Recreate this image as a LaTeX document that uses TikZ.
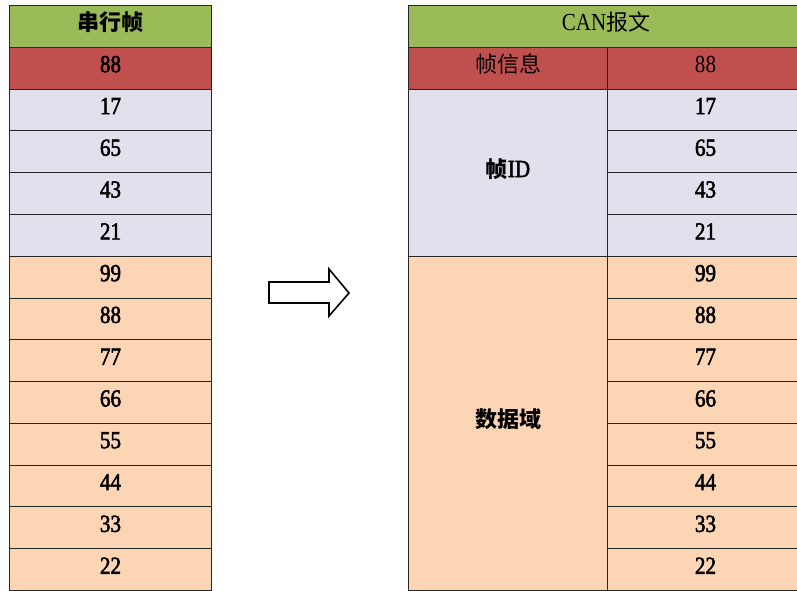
\documentclass[tikz,border=0pt]{standalone}
\usepackage{fontspec}
\setmainfont{Liberation Serif}
\newfontfamily\numfont[FakeStretch=0.86]{Liberation Serif}
\newfontfamily\numboldfont[FakeStretch=0.86,FakeBold=2.2]{Liberation Serif}
\newfontfamily\cjk{Noto Sans CJK SC}
\definecolor{hdrgreen}{HTML}{9BBB59}
\definecolor{rowred}{HTML}{C0504D}
\definecolor{rowlav}{HTML}{E4DFEC}
\definecolor{rowpeach}{HTML}{FCD5B4}
\definecolor{gridline}{HTML}{262626}
\newcommand{\up}[1]{\raisebox{4pt}[\height][\depth]{#1}}
\tikzset{
  cell/.style={draw=gridline, line width=1pt, inner sep=0pt, anchor=north west, align=center,
    font=\fontsize{24.5}{24.5}\numboldfont},
  lightcell/.style={cell, font=\fontsize{24.5}{24.5}\numfont},
  arrowshape/.style={draw=black, line width=1.6pt, fill=white, line join=miter}
}
\begin{document}
\begin{tikzpicture}[x=1pt,y=-1pt]
\useasboundingbox[fill=white] (0,0) rectangle (797,590);
\def\rh{41.79}
% left table
\node[cell, fill=hdrgreen, minimum width=202pt, minimum height=\rh pt] (lh) at (9,5) {\up{\fontsize{22}{22}\cjk\bfseries 串行帧}};
\node[cell, fill=rowred, minimum width=202pt, minimum height=\rh pt] (l1) at (9,5+\rh) {\up{88}};
\foreach \v [count=\i from 2] in {17,65,43,21} {
  \node[cell, fill=rowlav, minimum width=202pt, minimum height=\rh pt] (l\i) at (9,{5+\i*\rh}) {\up{\v}};
}
\foreach \v [count=\i from 6] in {99,88,77,66,55,44,33,22} {
  \node[cell, fill=rowpeach, minimum width=202pt, minimum height=\rh pt] (l\i) at (9,{5+\i*\rh}) {\up{\v}};
}
% arrow
\draw[arrowshape] (269,282) -- (329,282) -- (329,269) -- (349,293) -- (329,316) -- (329,303) -- (269,303) -- cycle;
% right table
\node[lightcell, fill=hdrgreen, minimum width=395pt, minimum height=\rh pt] (rh) at (408,5) {\up{CAN{\fontsize{22}{22}\cjk 报文}}};
\node[lightcell, fill=rowred, minimum width=199pt, minimum height=\rh pt] (rinfo) at (408,5+\rh) {\up{\fontsize{22}{22}\cjk 帧信息}};
\node[cell, fill=rowlav, minimum width=199pt, minimum height={4*\rh pt}] (rid) at (408,{5+2*\rh}) {\up{{\fontsize{22}{22}\cjk\bfseries 帧}ID}};
\node[cell, fill=rowpeach, minimum width=199pt, minimum height={8*\rh pt}] (rdata) at (408,{5+6*\rh}) {\up{\fontsize{22}{22}\cjk\bfseries 数据域}};
\node[lightcell, fill=rowred, minimum width=196pt, minimum height=\rh pt] (r1) at (607,5+\rh) {\up{88}};
\foreach \v [count=\i from 2] in {17,65,43,21} {
  \node[cell, fill=rowlav, minimum width=196pt, minimum height=\rh pt] (r\i) at (607,{5+\i*\rh}) {\up{\v}};
}
\foreach \v [count=\i from 6] in {99,88,77,66,55,44,33,22} {
  \node[cell, fill=rowpeach, minimum width=196pt, minimum height=\rh pt] (r\i) at (607,{5+\i*\rh}) {\up{\v}};
}
\end{tikzpicture}
\end{document}
